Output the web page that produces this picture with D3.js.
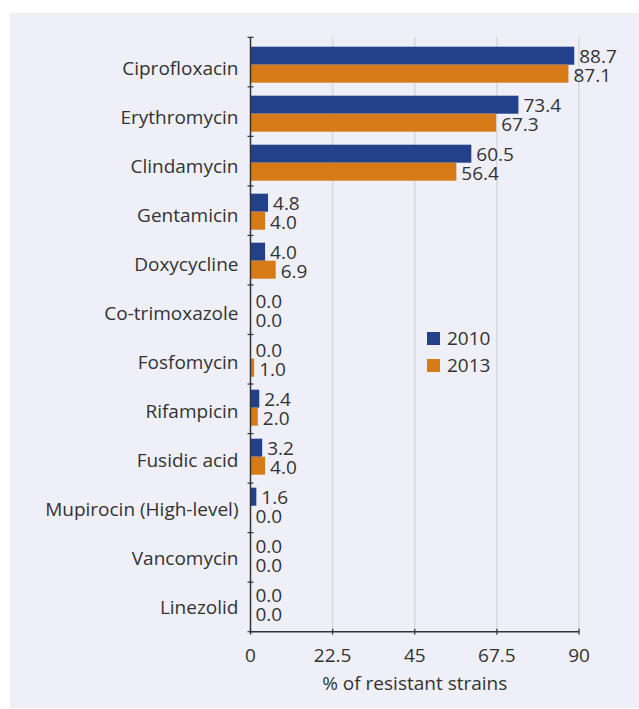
<!DOCTYPE html>
<html><head><meta charset="utf-8">
<script src="https://cdn.jsdelivr.net/npm/d3@7"></script>
<style>
html,body{margin:0;padding:0;background:#fff;}
text{font-family:"Open Sans",sans-serif;fill:#333;}
</style></head>
<body>
<svg id="chart" width="639" height="709"></svg>
<script>
const categories = ["Ciprofloxacin","Erythromycin","Clindamycin","Gentamicin","Doxycycline","Co-trimoxazole","Fosfomycin","Rifampicin","Fusidic acid","Mupirocin (High-level)","Vancomycin","Linezolid"];
const values2010 = [88.7,73.4,60.5,4.8,4.0,0.0,0.0,2.4,3.2,1.6,0.0,0.0];
const values2013 = [87.1,67.3,56.4,4.0,6.9,0.0,1.0,2.0,4.0,0.0,0.0,0.0];
const seriesNames = ["2010","2013"];
const xTicks = [0,22.5,45,67.5,90];
const xTitle = "% of resistant strains";

(function(){
const colors = ["#23418a","#d67b17"];
const fs = "19px";
const svg = d3.select("#chart");
svg.append("rect").attr("x",10).attr("y",13).attr("width",629).attr("height",695).attr("fill","#efeff8");

const pL = 250.5, pR = 579, pT = 37.3, pB = 631.7;
const x = d3.scaleLinear().domain([0,90]).range([pL,pR]);
// tick bands (axis) and bar bands
const y0 = d3.scaleBand().domain(categories).range([pT,pB]);
const y = d3.scaleBand().domain(categories).range([40.2,628.2]).paddingInner(0.265).paddingOuter(0.1325);

svg.append("g").selectAll("line").data(xTicks.slice(1)).join("line")
  .attr("x1",d=>x(d)).attr("x2",d=>x(d)).attr("y1",pT).attr("y2",pB)
  .attr("stroke","#d8d8dc").attr("stroke-width",1.5);

const bh = y.bandwidth()/2;
const series = [values2010, values2013];
series.forEach((vals,si)=>{
  const g = svg.append("g");
  g.selectAll("rect").data(categories).join("rect")
    .attr("x",x(0)).attr("y",(d)=>y(d)+si*bh)
    .attr("width",(d,i)=>x(vals[i])-x(0)).attr("height",bh)
    .attr("fill",colors[si]);
  g.selectAll("text").data(categories).join("text")
    .attr("x",(d,i)=>x(vals[i])+5).attr("y",(d)=>y(d)+si*bh+bh/2+(si?2:0.5))
    .attr("dy","0.34em").attr("font-size",fs)
    .text((d,i)=>vals[i].toFixed(1));
});

const ya = svg.append("g");
ya.append("line").attr("x1",pL).attr("x2",pL).attr("y1",pT).attr("y2",pB).attr("stroke","#333").attr("stroke-width",1.5);
const bounds = d3.range(categories.length+1).map(i=>pT+i*y0.step());
ya.selectAll("line.t").data(bounds).join("line").attr("class","t")
  .attr("x1",pL-3).attr("x2",pL+3).attr("y1",d=>d).attr("y2",d=>d).attr("stroke","#333").attr("stroke-width",1.2);
ya.selectAll("text").data(categories).join("text")
  .attr("x",pL-12).attr("y",d=>y(d)+y.bandwidth()/2+3.5).attr("dy","0.36em")
  .attr("text-anchor","end").attr("font-size",fs).text(d=>d);

const xa = svg.append("g");
xa.append("line").attr("x1",pL).attr("x2",pR).attr("y1",pB).attr("y2",pB).attr("stroke","#333").attr("stroke-width",1.5);
xa.selectAll("line.t").data(xTicks).join("line").attr("class","t")
  .attr("x1",d=>x(d)).attr("x2",d=>x(d)).attr("y1",pB-3).attr("y2",pB+3).attr("stroke","#333").attr("stroke-width",1.2);
xa.selectAll("text").data(xTicks).join("text")
  .attr("x",d=>x(d)).attr("y",pB+23.5).attr("dy","0.36em").attr("text-anchor","middle").attr("font-size",fs).text(d=>d);
svg.append("text").attr("x",(pL+pR)/2).attr("y",pB+51).attr("dy","0.36em").attr("text-anchor","middle").attr("font-size",fs).text(xTitle);

const lg = svg.append("g");
seriesNames.forEach((s,i)=>{
  lg.append("rect").attr("x",427).attr("y",332+i*27).attr("width",13).attr("height",13).attr("fill",colors[i]);
  lg.append("text").attr("x",447).attr("y",338+i*27).attr("dy","0.36em").attr("font-size",fs).text(s);
});
})();
</script>
</body></html>
